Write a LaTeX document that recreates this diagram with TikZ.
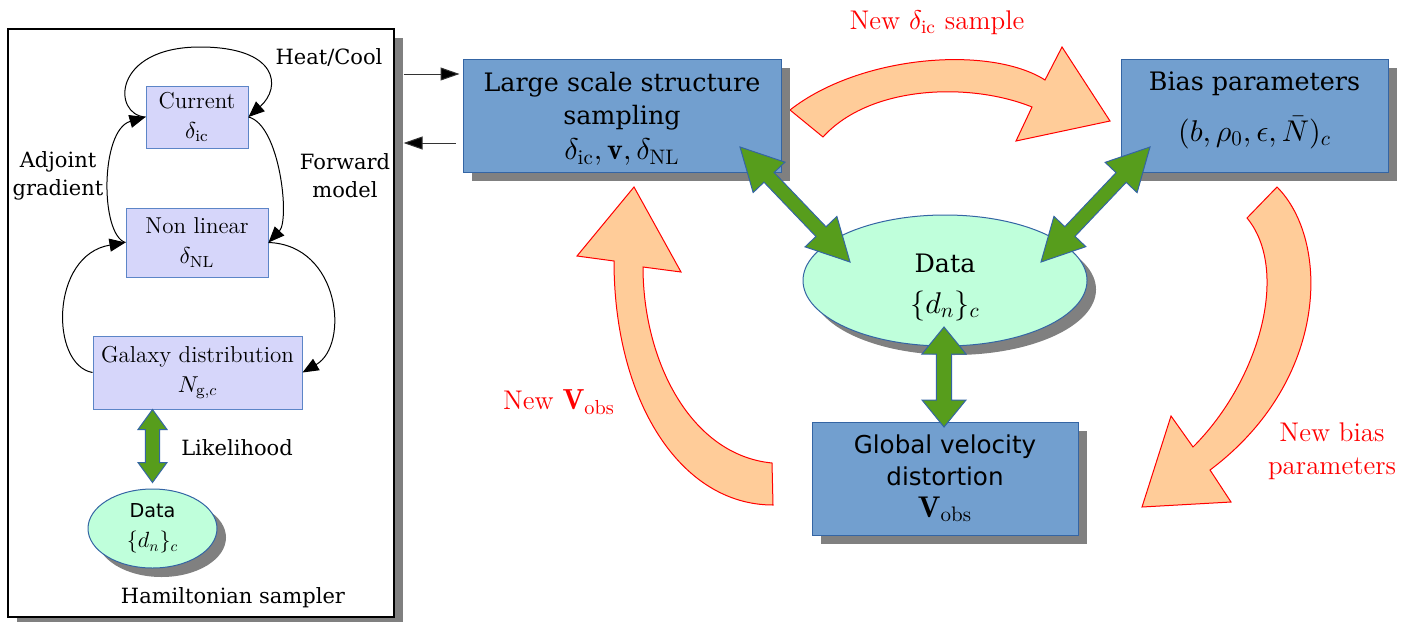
\documentclass[tikz,border=0pt]{standalone}
\usepackage{fontspec}
\DeclareFontShape{OML}{cmm}{m}{it}{<->cmmi10}{}
\DeclareFontShape{OMS}{cmsy}{m}{n}{<->cmsy10}{}
\DeclareFontShape{OMX}{cmex}{m}{n}{<->cmex10}{}
\DeclareFontShape{OT1}{cmr}{m}{n}{<->cmr10}{}
\DeclareFontShape{OT1}{cmr}{bx}{n}{<->cmbx10}{}
\newfontfamily\dvserif{DejaVu Serif}
\newfontfamily\dvsans{DejaVu Sans}
\usetikzlibrary{arrows.meta,calc,shapes.geometric,shadows}
\definecolor{boxblue}{HTML}{729FCF}
\definecolor{edgeblue}{HTML}{3465A4}
\definecolor{lav}{HTML}{D6D6FA}
\definecolor{lavedge}{HTML}{5C85C7}
\definecolor{mint}{HTML}{BFFFDB}
\definecolor{peach}{HTML}{FFCC99}
\definecolor{grn}{HTML}{579D1C}
\definecolor{shgray}{HTML}{808080}
\newcommand{\garrow}[5]{%
  \filldraw[garrowstyle] (#1)
  -- ($(#1)!#3!(#2)!#4!90:(#2)$) -- ($(#1)!#3!(#2)!#5!90:(#2)$)
  -- ($(#2)!#3!(#1)!#5!-90:(#1)$) -- ($(#2)!#3!(#1)!#4!-90:(#1)$)
  -- (#2)
  -- ($(#2)!#3!(#1)!#4!90:(#1)$) -- ($(#2)!#3!(#1)!#5!90:(#1)$)
  -- ($(#1)!#3!(#2)!#5!-90:(#2)$) -- ($(#1)!#3!(#2)!#4!-90:(#2)$)
  -- cycle;}
\newcommand{\bigmath}[1]{{\fontsize{15}{17}\selectfont$#1$}}
\begin{document}
\begin{tikzpicture}[x=0.5pt,y=-0.5pt,
  shd/.style={drop shadow={shadow xshift=4.5pt,shadow yshift=-4.5pt,fill=shgray,opacity=1}},
  panelbox/.style={draw=black,fill=white,line width=0.6pt,minimum width=193pt,minimum height=294pt,shd},
  lavbox/.style={draw=lavedge,fill=lav,line width=0.5pt,align=center,inner sep=0pt,
    font=\fontsize{11.5}{15}\selectfont},
  bigbox/.style={draw=edgeblue,fill=boxblue,line width=0.5pt,align=center,inner sep=0pt,
    minimum height=56.5pt,shd},
  dataell/.style={ellipse,draw=edgeblue,fill=mint,line width=0.5pt,align=center,inner sep=0pt,shd},
  lbl/.style={font=\dvserif\fontsize{10.5}{14}\selectfont,align=center,inner sep=0pt},
  redlbl/.style={text=red,font=\fontsize{13.5}{16.5}\selectfont,align=center,inner sep=0pt},
  blk/.style={draw=black,line width=0.5pt,-{Triangle[length=8pt,width=6.5pt]}},
  blk2/.style={draw=black!80,line width=0.5pt,-{Triangle[length=9.5pt,width=6.5pt,fill=black]}},
  garrowstyle/.style={fill=grn,draw=edgeblue,line width=0.5pt,line join=miter},
  orangearrow/.style={fill=peach,draw=red,line width=0.5pt,line join=miter}]
\useasboundingbox (0,0) rectangle (1416,621);

% ---------- left panel ----------
\node[panelbox] (panel) at (201,323) {};
\node[lavbox,minimum width=51pt,minimum height=31pt] (cur) at (197,117) {Current\\$\delta_{\rm ic}$};
\node[lavbox,minimum width=71pt,minimum height=34.5pt] (nl) at (197,242.5) {Non linear\\$\delta_{\rm NL}$};
\node[lavbox,minimum width=104.5pt,minimum height=36.5pt] (gal) at (197.5,372.5) {Galaxy distribution\\$N_{{\rm g},c}$};
\node[dataell,minimum width=64.5pt,minimum height=39.5pt,
  font=\dvsans\fontsize{9.6}{15}\selectfont] (sdata) at (152.5,528.5) {Data\\{\fontsize{11}{13}\selectfont$\{d_n\}_c$}};

\node[lbl] (heat) at (329,57) {Heat/Cool};
\node[lbl] (adj) at (58,176) {Adjoint\\gradient};
\node[lbl] (fwd) at (345,176) {Forward\\model};
\node[lbl] (lik) at (237,448) {Likelihood};
\node[lbl] (ham) at (233,598) {Hamiltonian sampler};

\draw[blk] (cur.west) .. controls (112,115) and (112,47) .. (200,47)
  .. controls (278,47) and (282,87) .. (cur.east);
\draw[blk] (cur.east) .. controls (280,125) and (290,220) .. (nl.east);
\draw[blk] (nl.west) .. controls (100,235) and (100,130) .. (cur.west);
\draw[blk] (nl.east) .. controls (340,245) and (350,345) .. (gal.east);
\draw[blk] (gal.west) .. controls (50,365) and (50,255) .. (nl.west);

\coordinate (likA) at (gal.south -| sdata.north);
\coordinate (likB) at ($(sdata.north)+(0,-6)$);
\garrow{likA}{likB}{10pt}{7.25pt}{3.6pt}

% ---------- orange block arrows ----------
\filldraw[orangearrow] (790,110) .. controls (860,55) and (990,45) .. (1045,80)
  -- (1062,47) -- (1110,121) -- (1016,141) -- (1032,107)
  .. controls (970,82) and (870,85) .. (823,137) -- cycle;
\filldraw[orangearrow] (773,505) -- (772,463) .. controls (690,455) and (643,360) .. (643,267)
  -- (681,272) -- (634,187) -- (577,256) -- (614,261)
  .. controls (614,400) and (680,505) .. (773,505) -- cycle;
\filldraw[orangearrow] (1247,218) -- (1277,187) .. controls (1330,240) and (1330,380) .. (1210,470)
  -- (1231,502) -- (1142,507) -- (1171,416) -- (1193,447)
  .. controls (1260,380) and (1290,270) .. (1247,218) -- cycle;

% ---------- right side nodes ----------
\node[bigbox,minimum width=159pt,font=\dvserif\fontsize{12.7}{16.5}\selectfont] (lss) at (622,115.5)
  {\rule{0pt}{13pt}Large scale structure\\sampling\\[1pt]\bigmath{\delta_{\rm ic},\mathbf{v},\delta_{\rm NL}}};
\node[bigbox,minimum width=133.5pt,text depth=9pt,font=\dvserif\fontsize{12.7}{17}\selectfont] (bias) at (1254.5,115.5)
  {Bias parameters\\[8.5pt]\bigmath{(b,\rho_0,\epsilon,\bar{N})_c}};
\node[dataell,minimum width=142pt,minimum height=65.5pt,font=\dvserif\fontsize{12.7}{20.5}\selectfont] (data) at (945,280.5)
  {\rule{0pt}{16pt}Data\\\bigmath{\{d_n\}_c}};
\node[bigbox,minimum width=133pt,font=\dvsans\fontsize{12.3}{16}\selectfont] (vel) at (945,478.5)
  {Global velocity\\distortion\\\bigmath{\mathbf{V}_{\rm obs}}};

\node[redlbl] (lab1) at (937,23) {New $\delta_{\rm ic}$ sample};
\node[redlbl] (lab2) at (559,402) {New {\fontsize{14.5}{16}\selectfont$\mathbf{V}_{\rm obs}$}};
\node[redlbl] (lab3) at (1332,451) {New bias\\parameters};

% ---------- connectors ----------
\draw[blk2] ($(panel.east |- 0,74)+(9,0)$) -- ($(lss.west |- 0,74)+(-3,0)$);
\draw[blk2] ($(lss.west |- 0,143)+(-7,0)$) -- ($(panel.east |- 0,143)+(9,0)$);

\coordinate (g3a) at (740,147);
\coordinate (g3b) at (850,262);
\coordinate (g4a) at (1150,147);
\coordinate (g4b) at (1041,262);
\coordinate (g2a) at (944,327);
\coordinate (g2b) at (944,427);
\garrow{g3a}{g3b}{21pt}{11pt}{3.5pt}
\garrow{g4a}{g4b}{21pt}{11pt}{3.5pt}
\garrow{g2a}{g2b}{13.5pt}{11pt}{3.8pt}
\end{tikzpicture}
\end{document}
